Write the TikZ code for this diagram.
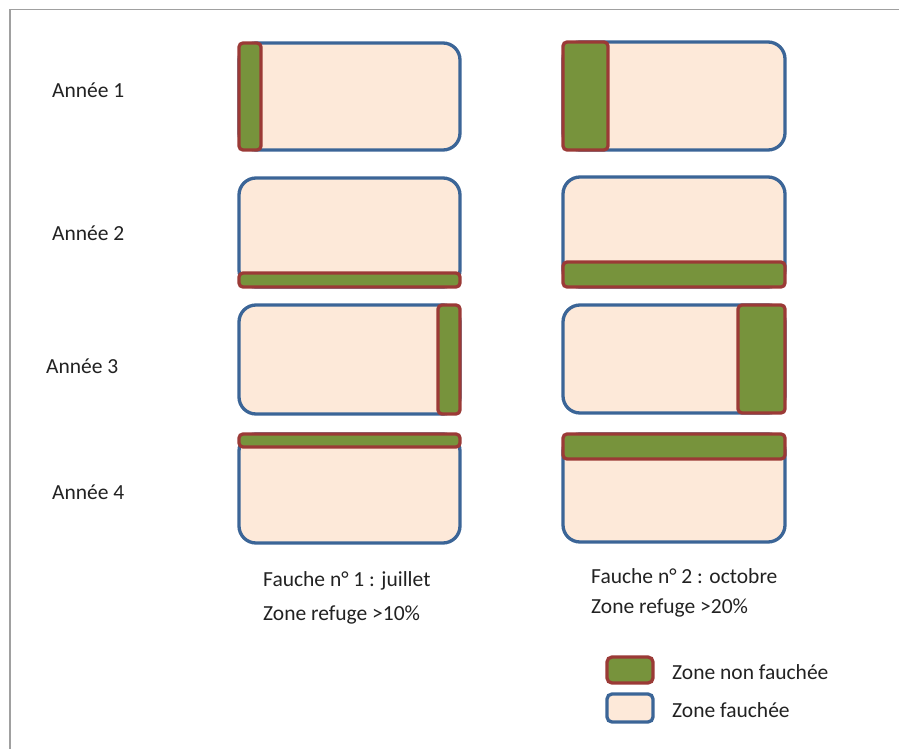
\documentclass[tikz,border=0pt]{standalone}
\usepackage{fontspec}
\setmainfont{Carlito}
\definecolor{edgeblue}{HTML}{3B6597}
\definecolor{edgered}{HTML}{9B3A36}
\definecolor{grass}{HTML}{77933C}
\definecolor{peach}{HTML}{FDE9D9}
\definecolor{framegray}{HTML}{A0A0A0}
\definecolor{txt}{HTML}{222222}
\begin{document}
\begin{tikzpicture}[x=1pt,y=-1pt,
  field/.style={draw=edgeblue, fill=peach, line width=3.3pt, rounded corners=17pt},
  strip/.style={draw=edgered, fill=grass, line width=3.3pt, rounded corners=4pt},
  keybox/.style={line width=3.3pt, rounded corners=5pt},
  lab/.style={anchor=base west, inner sep=0pt, text=txt, font=\fontsize{21.5}{25}\selectfont}]
\useasboundingbox (0,0) rectangle (899,749);
\fill[white] (0,0) rectangle (899,749);
\draw[framegray, line width=1.3pt] (899,9.5) -- (10,9.5) -- (10,749);
% left column
\draw[field] (239,43) rectangle (460,150);
\draw[strip] (239,43) rectangle (261,150);
\draw[field] (239,178) rectangle (460,287);
\draw[strip] (239,273) rectangle (460,287);
\draw[field] (239,305) rectangle (460,414);
\draw[strip] (438,305) rectangle (460,414);
\draw[field] (239,434) rectangle (460,543);
\draw[strip] (239,434) rectangle (460,447);
% right column
\draw[field] (563,42) rectangle (785,150);
\draw[strip] (563,42) rectangle (608,150);
\draw[field] (563,177) rectangle (785,287);
\draw[strip] (563,262) rectangle (785,287);
\draw[field] (563,305) rectangle (785,413);
\draw[strip] (738,305) rectangle (785,413);
\draw[field] (563,434) rectangle (785,542);
\draw[strip] (563,434) rectangle (785,459);
% labels
\node[lab] (a1) at (52,98) {Année 1};
\node[lab] (a2) at (52,240) {Année 2};
\node[lab] (a3) at (46,373) {Année 3};
\node[lab] (a4) at (52,499) {Année 4};
\node[lab] (f1) at (263,586) {Fauche n° 1 : juillet};
\node[lab] (z1) at (263,620) {Zone refuge >10\%};
\node[lab] (f2) at (591,583) {Fauche n° 2 : octobre};
\node[lab] (z2) at (591,613) {Zone refuge >20\%};
% legend
\draw[keybox, draw=edgered, fill=grass] (607,657) rectangle (653,683);
\draw[keybox, draw=edgeblue, fill=peach] (607,694) rectangle (653,722);
\node[lab] (k1) at (672,679) {Zone non fauchée};
\node[lab] (k2) at (672,717) {Zone fauchée};
\end{tikzpicture}
\end{document}
